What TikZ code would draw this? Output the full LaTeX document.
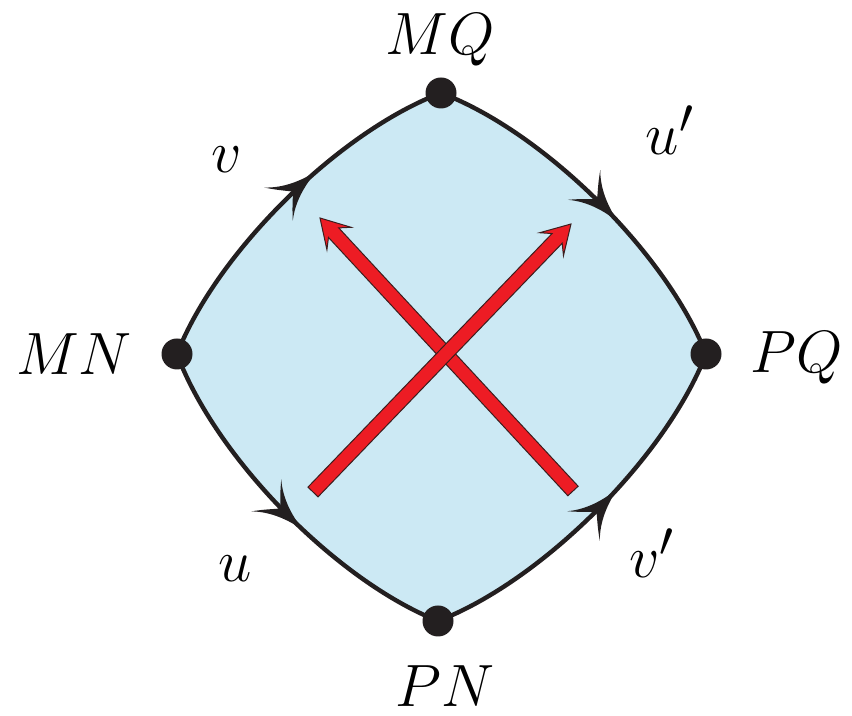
\documentclass[tikz,border=0pt]{standalone}
\usetikzlibrary{calc,decorations.markings}
\definecolor{bluefill}{RGB}{204,233,244}
\definecolor{edgeblack}{RGB}{35,31,32}
\definecolor{arrred}{RGB}{237,28,36}
\definecolor{arroutline}{RGB}{60,30,30}
\tikzset{
  edge/.style={draw=edgeblack, line width=2.2pt},
  dot/.style={circle, fill=edgeblack, inner sep=0pt, minimum size=15.5pt},
  lbl/.style={inner sep=0pt, anchor=base, font=\Huge, scale=1.2, transform shape},
  bl/.style={bend left=24, looseness=0.75},
  br/.style={bend right=24, looseness=0.75},
  midarrow/.style={postaction={decorate, decoration={markings, mark=at position #1 with {
     \fill[edgeblack] (0pt,0pt) .. controls (-9pt,1.5pt) and (-18pt,4.5pt) .. (-25pt,11pt)
        .. controls (-20pt,4.5pt) and (-16.5pt,1.5pt) .. (-15.5pt,0pt)
        .. controls (-16.5pt,-1.5pt) and (-20pt,-4.5pt) .. (-25pt,-11pt)
        .. controls (-18pt,-4.5pt) and (-9pt,-1.5pt) .. (0pt,0pt) -- cycle;}}}},
  redarr/.style={fill=arrred, draw=arroutline, line width=0.5pt, line join=miter}
}
\newcommand\myredarrow[2]{%
  \coordinate (#1#2n) at ($(#2)!10pt!(#1)$);
  \coordinate (#1#2b) at ($(#2)!14pt!(#1)$);
  \filldraw[redarr] ($(#1)!3.5pt!90:(#2)$) -- ($(#1#2n)!3.5pt!-90:(#1)$)
     -- ($(#1#2b)!8.25pt!-90:(#1)$) -- (#2) -- ($(#1#2b)!8.25pt!90:(#1)$)
     -- ($(#1#2n)!3.5pt!90:(#1)$) -- ($(#1)!3.5pt!-90:(#2)$) -- cycle;}
\begin{document}
\begin{tikzpicture}[x=0.5pt,y=0.5pt]
\useasboundingbox (0,0) rectangle (852,716);
\coordinate (T) at (441,623);
\coordinate (L) at (177,362);
\coordinate (R) at (706,362);
\coordinate (B) at (438,95);
\fill[bluefill] (L) to[bl] (T) to[bl] (R) to[bl] (B) to[bl] (L) -- cycle;
\draw[edge, midarrow=0.61] (L) to[bl] (T);
\draw[edge, midarrow=0.58] (T) to[bl] (R);
\draw[edge, midarrow=0.57] (L) to[br] (B);
\draw[edge, midarrow=0.58] (B) to[br] (R);
\coordinate (bs) at (573,225);
\coordinate (be) at (320,498);
\coordinate (as) at (313,224);
\coordinate (ae) at (571,492);
\myredarrow{bs}{be}
\myredarrow{as}{ae}
\node[dot] (dT) at (T) {};
\node[dot] (dL) at (L) {};
\node[dot] (dR) at (R) {};
\node[dot] (dB) at (B) {};
\node[lbl] (lMQ) at (440,661) {$MQ$};
\node[lbl] (lMN) at (74,341) {$MN$};
\node[lbl] (lPQ) at (797,343) {$PQ$};
\node[lbl] (lPN) at (445,9) {$PN$};
\node[lbl] (lv) at (227,543) {$v$};
\node[lbl] (lup) at (670,561) {$u'$};
\node[lbl] (lu) at (235,134) {$u$};
\node[lbl] (lvp) at (652,138) {$v'$};
\end{tikzpicture}
\end{document}
